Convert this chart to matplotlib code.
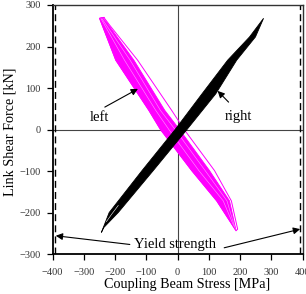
import matplotlib
matplotlib.use('Agg')
import matplotlib.pyplot as plt

plt.rcParams['font.family'] = 'Liberation Serif'

# "left" link: dense band of loops (outline of the band)
left_band_x = [-250, -241, -228, -140, -41, 6, 102, 166, 187, 125, 45, -55, -92, -198]
left_band_y = [268, 270, 259, 167, 46, 0, -99, -172, -244, -172, -99, 0, 46, 167]
# the largest "left" cycle, drawn as a thin line
left_outer_x = [-236, -217, -128, -19, 21, 118, 172, 192, 187, 125, 45, -55, -92, -198, -250, -236]
left_outer_y = [270, 251, 167, 46, 0, -99, -172, -240, -244, -172, -99, 0, 46, 167, 268, 270]
# lighter streaks inside the band
left_streak_x = [[-246, -170, -70, -28, 68, 146, 186], [-243, -152, -55, -8, 88, 158, 186]]
left_streak_y = [[268, 167, 46, 0, -99, -172, -244], [268, 167, 46, 0, -99, -172, -244]]

# "right" link band
right_band_x = [-244, -236, -190, -78, 30, 122, 189, 249, 275, 230, 160, 78, -8, -114, -219, -232]
right_band_y = [-248, -236, -200, -99, 0, 86, 167, 223, 268, 223, 167, 86, 0, -99, -200, -225]
right_streak_x = [-228, -212, -190]
right_streak_y = [-222, -205, -183]

yield_stress = 392
xticks = [-400, -300, -200, -100, 0, 100, 200, 300, 400]
yticks = [-300, -200, -100, 0, 100, 200, 300]

fig = plt.figure(figsize=(3.06, 2.94), dpi=100)
ax = fig.add_axes([0.172, 0.136, 0.817, 0.847])

ax.axhline(0, color='#444444', lw=0.8, zorder=1)
ax.axvline(0, color='#444444', lw=0.8, zorder=1)

ax.fill(left_band_x, left_band_y, color='#ff00ff', lw=0.6, zorder=2)
for sx, sy in zip(left_streak_x, left_streak_y):
    ax.plot(sx, sy, color='#ff9cff', lw=0.4, zorder=2)
ax.plot(left_outer_x, left_outer_y, color='#ff00ff', lw=0.7, zorder=2)

ax.fill(right_band_x, right_band_y, color='black', lw=0.6, zorder=3)
ax.plot(right_streak_x, right_streak_y, color='white', lw=0.4, zorder=3)

ax.axvline(-yield_stress, color='black', lw=1.0, ls=(0, (5, 3)), zorder=1)
ax.axvline(yield_stress, color='black', lw=1.0, ls=(0, (5, 3)), zorder=1)

arrow = dict(arrowstyle='-|>', color='black', lw=0.8, mutation_scale=10, shrinkA=0, shrinkB=0)
ax.text(-249, 29, 'left', ha='center', va='center', fontsize=10.5)
ax.annotate('', xy=(-127, 98), xytext=(-233, 54), arrowprops=arrow)
ax.text(195, 31, 'right', ha='center', va='center', fontsize=10.5)
ax.annotate('', xy=(128, 93), xytext=(163, 66), arrowprops=arrow)
ax.text(-8, -277, 'Yield strength', ha='center', va='center', fontsize=10.5)
ax.annotate('', xy=(-390, -256), xytext=(-153, -277), arrowprops=arrow)
ax.annotate('', xy=(392, -240), xytext=(149, -285), arrowprops=arrow)

ax.set_xlim(-400, 400)
ax.set_ylim(-300, 300)
ax.set_xticks(xticks)
ax.set_yticks(yticks)
ax.tick_params(direction='out', length=4.5, width=0.9, labelsize=7.5, colors='black', labelcolor='#333333')
ax.tick_params(axis='x', pad=5.5)
ax.tick_params(axis='y', pad=4)
for side in ['left', 'bottom']:
    ax.spines[side].set_linewidth(1.3)
    ax.spines[side].set_color('black')
for side in ['top', 'right']:
    ax.spines[side].set_linewidth(1.0)
    ax.spines[side].set_color('#333333')

ax.set_xlabel('Coupling Beam Stress [MPa]', fontsize=10.2)
ax.set_ylabel('Link Shear Force [kN]', fontsize=10.2)
ax.xaxis.set_label_coords(0.537, -0.098)
ax.yaxis.set_label_coords(-0.143, 0.49)

fig.savefig('out.png', dpi=100)
